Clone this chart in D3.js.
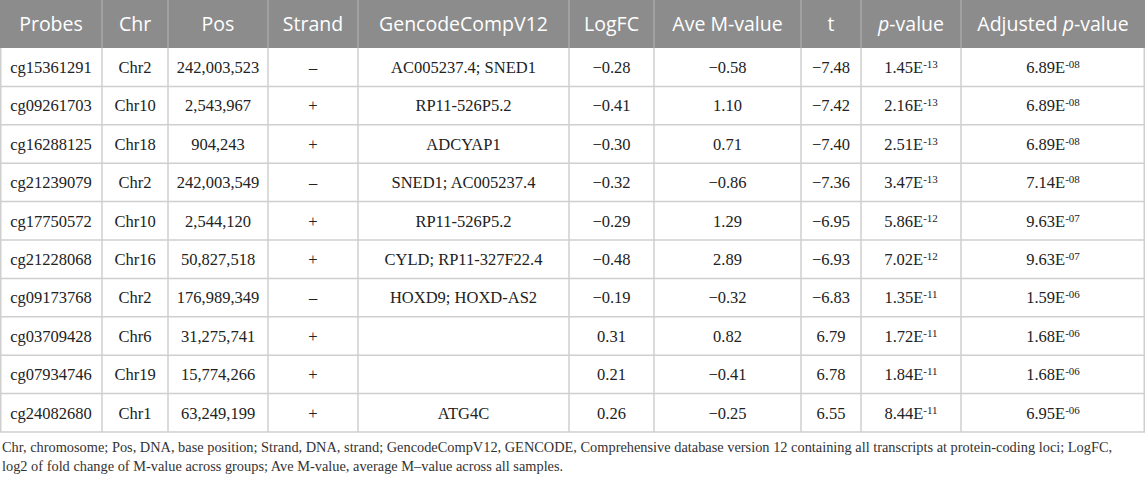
<!DOCTYPE html>
<html><head><meta charset="utf-8">
<script src="https://cdn.jsdelivr.net/npm/d3@7"></script>
<style>body{margin:0;background:#fff}</style>
</head><body><div id="chart"></div>
<script>
const headers = ["Probes","Chr","Pos","Strand","GencodeCompV12","LogFC","Ave M-value","t","*p*-value","Adjusted *p*-value"];
const probes = ["cg15361291","cg09261703","cg16288125","cg21239079","cg17750572","cg21228068","cg09173768","cg03709428","cg07934746","cg24082680"];
const chr = ["Chr2","Chr10","Chr18","Chr2","Chr10","Chr16","Chr2","Chr6","Chr19","Chr1"];
const pos = ["242,003,523","2,543,967","904,243","242,003,549","2,544,120","50,827,518","176,989,349","31,275,741","15,774,266","63,249,199"];
const strand = ["–","+","+","–","+","+","–","+","+","+"];
const genes = ["AC005237.4; SNED1","RP11-526P5.2","ADCYAP1","SNED1; AC005237.4","RP11-526P5.2","CYLD; RP11-327F22.4","HOXD9; HOXD-AS2","","","ATG4C"];
const logFC = ["−0.28","−0.41","−0.30","−0.32","−0.29","−0.48","−0.19","0.31","0.21","0.26"];
const aveM = ["−0.58","1.10","0.71","−0.86","1.29","2.89","−0.32","0.82","−0.41","−0.25"];
const tStat = ["−7.48","−7.42","−7.40","−7.36","−6.95","−6.93","−6.83","6.79","6.78","6.55"];
const pValue = ["1.45E-13","2.16E-13","2.51E-13","3.47E-13","5.86E-12","7.02E-12","1.35E-11","1.72E-11","1.84E-11","8.44E-11"];
const adjP = ["6.89E-08","6.89E-08","6.89E-08","7.14E-08","9.63E-07","9.63E-07","1.59E-06","1.68E-06","1.68E-06","6.95E-06"];
const footnote = [
 "Chr, chromosome; Pos, DNA, base position; Strand, DNA, strand; GencodeCompV12, GENCODE, Comprehensive database version 12 containing all transcripts at protein-coding loci; LogFC,",
 "log2 of fold change of M-value across groups; Ave M-value, average M–value across all samples."
];

const W = 1145, H = 478;
const colEdges = [0,102,168,268,358,569,654,801,861,961,1145];
const headerH = 48, tableBottom = 432;

const svg = d3.select("#chart").append("svg").attr("width",W).attr("height",H);
svg.append("rect").attr("width",W).attr("height",H).attr("fill","#fff");

const columns = [probes,chr,pos,strand,genes,logFC,aveM,tStat,pValue,adjP];
const nCols = columns.length;
const x = d3.scaleOrdinal().domain(d3.range(nCols+1)).range(colEdges);
const y = d3.scaleBand().domain(d3.range(probes.length)).range([headerH, tableBottom]);

// header
svg.append("rect").attr("x",0).attr("y",0).attr("width",W).attr("height",headerH).attr("fill","#8c8c8c");
const hdr = svg.append("g");
headers.forEach((h,i)=>{
  const cx = (x(i)+x(i+1))/2;
  const t = hdr.append("text").attr("x",cx).attr("y",headerH/2).attr("dy","0.36em")
    .attr("text-anchor","middle").attr("fill","#fff")
    .style("font-family","'Open Sans', sans-serif").style("font-size","19.5px");
  h.split("*").forEach((part,k)=>{
    if(!part) return;
    const ts = t.append("tspan").text(part);
    if(k%2===1) ts.style("font-style","italic");
  });
});
// header separators
svg.append("g").selectAll("line").data(d3.range(1,nCols)).join("line")
  .attr("x1",d=>x(d)).attr("x2",d=>x(d)).attr("y1",0).attr("y2",headerH)
  .attr("stroke","#a9a9a9").attr("stroke-width",1.5);

// body grid
const grid = svg.append("g").attr("stroke","#cfcfcf").attr("stroke-width",1.5);
grid.selectAll("line.h").data(d3.range(1,probes.length+1)).join("line").attr("class","h")
  .attr("x1",0).attr("x2",W).attr("y1",d=>d===probes.length?tableBottom:y(d)).attr("y2",d=>d===probes.length?tableBottom:y(d));
grid.selectAll("line.v").data(d3.range(0,nCols+1)).join("line").attr("class","v")
  .attr("x1",d=>Math.min(Math.max(x(d),0.75),W-0.75)).attr("x2",d=>Math.min(Math.max(x(d),0.75),W-0.75))
  .attr("y1",headerH).attr("y2",tableBottom);

// body cells
const body = svg.append("g").style("font-family","'Liberation Serif', 'Times New Roman', serif")
  .style("font-size","16.5px").attr("fill","#222");
columns.forEach((col,ci)=>{
  const cx = (x(ci)+x(ci+1))/2;
  col.forEach((v,ri)=>{
    const t = body.append("text").attr("x",cx).attr("y",y(ri)+y.bandwidth()/2).attr("dy","0.35em")
      .attr("text-anchor","middle");
    if(ci>=8){
      const [m,e] = v.split("E");
      t.append("tspan").text(m+"E");
      t.append("tspan").attr("dy","-0.45em").style("font-size","11px").text(e);
    } else {
      t.text(v);
    }
  });
});

// footnote: font size chosen so line 1 fits the table width naturally
const fn = svg.append("g").style("font-family","'Liberation Serif', 'Times New Roman', serif")
  .attr("fill","#333");
const baseFs = 15.5;
fn.style("font-size", baseFs+"px");
const f1 = fn.append("text").attr("x",2).attr("y",447).attr("dy","0.35em").text(footnote[0]);
const f2 = fn.append("text").attr("x",2).attr("y",466).attr("dy","0.35em").text(footnote[1]);
const target = 1110;
const L1 = f1.node().getComputedTextLength();
const fs = Math.min(baseFs, baseFs * target / L1);
fn.style("font-size", fs.toFixed(2)+"px");
</script></body></html>
